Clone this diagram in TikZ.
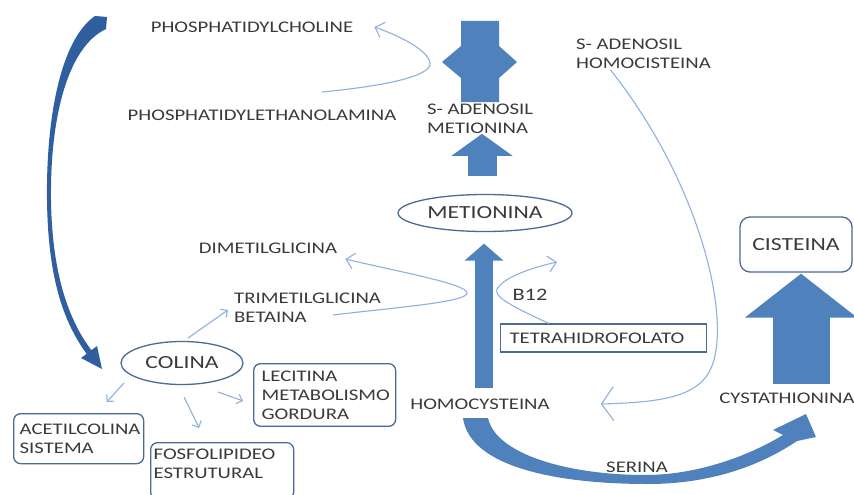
\documentclass[tikz,border=0pt]{standalone}
\usepackage{fontspec}
\setmainfont{Carlito}[FakeStretch=1.28]
\usetikzlibrary{arrows.meta,calc,shapes.geometric}
\definecolor{txt}{HTML}{3A3A3A}
\definecolor{bfill}{HTML}{4F81BD}
\definecolor{bdark}{HTML}{3A68A0}
\definecolor{cdark}{HTML}{2F5F9E}
\definecolor{lblue}{HTML}{8EB2DE}
\definecolor{boxline}{HTML}{4A6B94}
\tikzset{
  lbl/.style={text=txt, font=\fontsize{16.2}{19}\selectfont, inner sep=1pt, align=left},
  biglbl/.style={text=txt, font=\fontsize{18.5}{22}\selectfont},
  rbox/.style={draw=boxline, line width=1.3pt, rounded corners=7pt, lbl},
  ell/.style={ellipse, draw=boxline, line width=1.3pt, biglbl, inner sep=0pt},
  thinarr/.style={draw=lblue, line width=1.1pt, -{Straight Barb[length=8pt,width=16pt]}},
  smallarr/.style={draw=lblue, line width=1.1pt, -{Straight Barb[length=5pt,width=10pt]}},
  blockarrow/.style={draw=bfill, line cap=butt},
}
\begin{document}
\begin{tikzpicture}[x=1pt,y=-1pt]
\useasboundingbox (0,0) rectangle (854,495);
\fill[white] (0,0) rectangle (854,495);

% top double arrow shape
\fill[bfill] (461,21) -- (499,21) -- (499,46) -- (517,62) -- (499,78) -- (499,102)
  -- (461,102) -- (461,78) -- (442,62) -- (461,46) -- cycle;

% left curved arrow (down to COLINA)
\fill[cdark] (95,16) .. controls (60,40) and (46,120) .. (47,200)
  .. controls (48,275) and (62,320) .. (86.6,353.8)
  -- (81,358) -- (102,369) -- (97,346) -- (91.4,350.2)
  .. controls (67,318) and (52,270) .. (51,200)
  .. controls (50,122) and (66,48) .. (106,29) -- (107,17) -- cycle;

% bottom curved arrow (HOMOCYSTEINA -> CYSTATHIONINA)
\fill[bfill] (463,418) -- (488,418)
  .. controls (496,455) and (570,475) .. (645,475)
  .. controls (700,475) and (752,454) .. (783,435)
  -- (773,430) -- (806,414) -- (816,437) -- (797,441)
  .. controls (760,466) and (710,484) .. (648,484)
  .. controls (560,484) and (470,468) .. (463,418) -- cycle;

% text nodes
\node[lbl] (pc) at (252,27) {PHOSPHATIDYLCHOLINE};
\node[lbl] (pe) at (262,115) {PHOSPHATIDYLETHANOLAMINA};
\node[lbl, anchor=west] (sam) at (426,119) {S- ADENOSIL\\METIONINA};
\node[lbl, anchor=west] (sah) at (575,54) {S- ADENOSIL\\HOMOCISTEINA};
\node[ell, minimum width=174pt, minimum height=37pt] (metionina) at (485,213) {METIONINA};
\node[lbl] (dmg) at (268,248) {DIMETILGLICINA};
\node[lbl, anchor=west] (tmg) at (233,308) {TRIMETILGLICINA\\BETAINA};
\node[lbl, font=\fontsize{17.5}{20}\selectfont] (b12) at (530,295) {B12};
\node[lbl, draw=boxline, line width=1.2pt, anchor=west, text width=188pt, inner xsep=9pt, minimum height=28pt] (thf) at (500,338) {TETRAHIDROFOLATO};
\node[lbl] (homocys) at (480,404) {HOMOCYSTEINA};
\node[lbl] (serina) at (637,467) {SERINA};
\node[rbox, biglbl, rounded corners=10pt, minimum width=112pt, minimum height=55pt] (cisteina) at (796,244.5) {CISTEINA};
\node[lbl] (cystath) at (787,398) {CYSTATHIONINA};
\node[ell, minimum width=122pt, minimum height=43pt] (colina) at (182,363) {COLINA};
\node[rbox, anchor=north west, text width=126pt, inner xsep=8pt, inner ysep=7pt] (lecitina) at (253,363) {LECITINA\\METABOLISMO\\GORDURA};
\node[rbox, anchor=north west, text width=118pt, inner xsep=6pt, minimum height=50pt] (acetil) at (13,413) {ACETILCOLINA\\SISTEMA};
\node[rbox, anchor=north west, text width=137pt, inner xsep=3pt, inner ysep=6pt] (fosfo) at (150,442) {FOSFOLIPIDEO\\ESTRUTURAL\\[-4pt]\mbox{}};

% block arrows
\draw[blockarrow, line width=29pt, -{Triangle[length=22pt,width=60pt]}]
  ($(metionina.north)+(-3,-18)$) -- ($(metionina.north)+(-3,-60)$);
\draw[blockarrow, line width=18pt, -{Triangle[length=17pt,width=38pt]}]
  ($(homocys.north)+(4,-9)$) -- ($(metionina.south)+(-1,11.5)$);
\draw[blockarrow, line width=57pt, -{Triangle[length=44pt,width=110pt]}]
  ($(cystath.north)+(14,-7)$) -- ($(cisteina.south)+(5,1)$);

% thin curved arrows
\coordinate (peOut) at (322,92);
\draw[thinarr] (peOut) .. controls (385,86) and (432,76) .. (430,63)
  .. controls (428,50) and (400,36) .. ([xshift=20pt]pc.east);
\coordinate (tmgOut) at (333,315);
\draw[thinarr] (tmgOut) .. controls (400,307) and (467,302) .. (467,293)
  .. controls (467,284) and (400,272) .. ([xshift=7pt,yshift=-11pt]dmg.east);
\coordinate (b12tip) at (557,262);
\draw[thinarr] ([xshift=-55pt]thf.north) .. controls (525,312) and (492,298) .. (497,289)
  .. controls (503,278) and (530,268) .. (b12tip);
\draw[thinarr, -{Straight Barb[length=12pt,width=34pt]}] ([xshift=-33pt]sah.south)
  .. controls (690,170) and (725,290) .. (716,350)
  .. controls (710,392) and (680,402) .. ([xshift=50pt]homocys.east);

% arrows from COLINA
\draw[smallarr] ($(colina)+(6,-25)$) -- ($(tmg.west)+(-5,2)$);
\draw[smallarr] ($(colina)+(-58,20)$) -- ($(acetil.north)+(28,-11)$);
\draw[smallarr] ($(colina)+(2,34)$) -- ($(fosfo.north)+(-23,-14)$);
\draw[smallarr] ($(colina)+(36,29)$) -- ($(lecitina.west)+(-10,6)$);
\end{tikzpicture}
\end{document}
